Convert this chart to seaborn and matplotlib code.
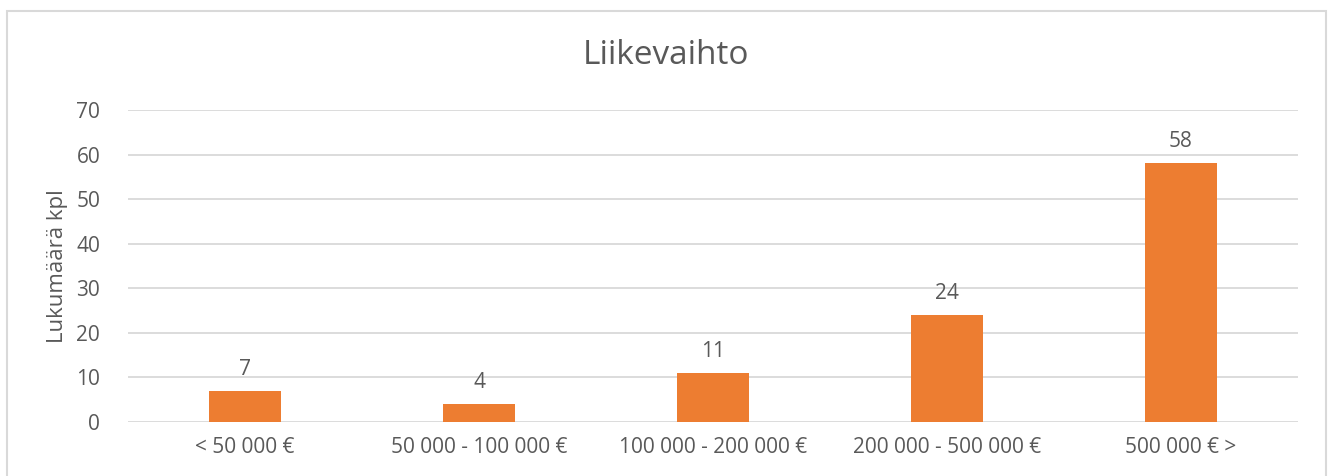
import matplotlib
matplotlib.use("Agg")
import matplotlib.pyplot as plt
import seaborn as sns
import pandas as pd
from matplotlib.patches import Rectangle

categories = ["< 50 000 €", "50 000 - 100 000 €", "100 000 - 200 000 €", "200 000 - 500 000 €", "500 000 € >"]
values = [7, 4, 11, 24, 58]
y_ticks = [0, 10, 20, 30, 40, 50, 60, 70]
title = "Liikevaihto"
y_label = "Lukumäärä kpl"

sns.set_style("white")
plt.rcParams['font.family'] = ['Open Sans', 'DejaVu Sans']

text_color = "#595959"
bar_color = "#ED7D31"
grid_color = "#D9D9D9"

fig = plt.figure(figsize=(13.33, 4.76), dpi=100)
ax = fig.add_axes([128/1333, 1 - 422/476, (1298-128)/1333, (422-110)/476])

df = pd.DataFrame({"cat": categories, "val": values})
sns.barplot(data=df, x="cat", y="val", color=bar_color, width=0.31, ax=ax,
            saturation=1, edgecolor="none")

ax.set_ylim(0, 70)
ax.set_yticks(y_ticks)
ax.set_xlim(-0.5, len(categories) - 0.5)
ax.yaxis.grid(True, color=grid_color, linewidth=1.3)
ax.set_axisbelow(True)
for s in ax.spines.values():
    s.set_visible(False)
ax.tick_params(axis='both', length=0, colors=text_color, labelsize=15)
ax.tick_params(axis='x', pad=11)
ax.tick_params(axis='y', pad=20)
ax.set_xlabel("")
ax.set_ylabel(y_label, color=text_color, fontsize=16, labelpad=6)

for i, v in enumerate(values):
    ax.annotate(str(v), (i, v), xytext=(0, 8), textcoords="offset points",
                ha="center", va="bottom", color=text_color, fontsize=15)

fig.text(0.5, 1 - 56/476, title, ha="center", va="center", color=text_color, fontsize=24)

fig.patches.append(Rectangle((7/1333, -0.01), (1326-7)/1333, 1 - 11/476 + 0.01,
                             transform=fig.transFigure, fill=False,
                             edgecolor="#D9D9D9", linewidth=1.5))

fig.savefig("out.png", dpi=100, facecolor="white")
